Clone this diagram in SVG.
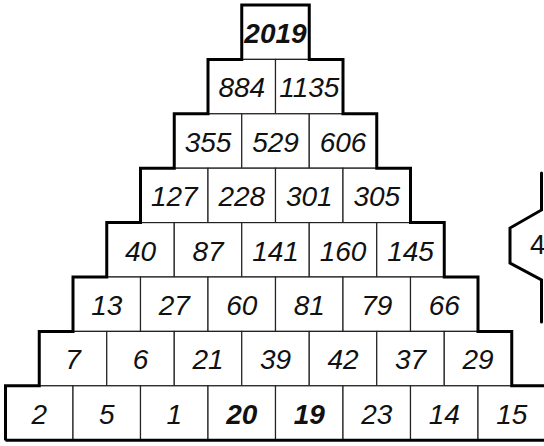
<svg xmlns="http://www.w3.org/2000/svg" width="544" height="446" viewBox="0 0 544 446">
<style>
.c{fill:#fff;stroke:#222;stroke-width:1.2}
.t{font-family:"Liberation Sans",Arial,sans-serif;font-size:28px;font-style:italic;text-anchor:middle;fill:#111}
.b{font-weight:bold}
.o{fill:none;stroke:#000;stroke-width:3;stroke-linejoin:miter}
</style>
<rect width="544" height="446" fill="#fff"/>
<g id="row0">
<g id="n0-0"><rect class="c" x="241.75" y="5" width="67.5" height="54.4"/><text class="t b" x="275.5" y="42.9">2019</text></g>
</g>
<g id="row1">
<g id="n1-0"><rect class="c" x="208" y="59.4" width="67.5" height="54.4"/><text class="t" x="241.75" y="97.3">884</text></g>
<g id="n1-1"><rect class="c" x="275.5" y="59.4" width="67.5" height="54.4"/><text class="t" x="309.25" y="97.3">1135</text></g>
</g>
<g id="row2">
<g id="n2-0"><rect class="c" x="174.25" y="113.8" width="67.5" height="54.4"/><text class="t" x="208" y="151.7">355</text></g>
<g id="n2-1"><rect class="c" x="241.75" y="113.8" width="67.5" height="54.4"/><text class="t" x="275.5" y="151.7">529</text></g>
<g id="n2-2"><rect class="c" x="309.25" y="113.8" width="67.5" height="54.4"/><text class="t" x="343" y="151.7">606</text></g>
</g>
<g id="row3">
<g id="n3-0"><rect class="c" x="140.5" y="168.2" width="67.5" height="54.4"/><text class="t" x="174.25" y="206.1">127</text></g>
<g id="n3-1"><rect class="c" x="208" y="168.2" width="67.5" height="54.4"/><text class="t" x="241.75" y="206.1">228</text></g>
<g id="n3-2"><rect class="c" x="275.5" y="168.2" width="67.5" height="54.4"/><text class="t" x="309.25" y="206.1">301</text></g>
<g id="n3-3"><rect class="c" x="343" y="168.2" width="67.5" height="54.4"/><text class="t" x="376.75" y="206.1">305</text></g>
</g>
<g id="row4">
<g id="n4-0"><rect class="c" x="106.75" y="222.6" width="67.5" height="54.4"/><text class="t" x="140.5" y="260.5">40</text></g>
<g id="n4-1"><rect class="c" x="174.25" y="222.6" width="67.5" height="54.4"/><text class="t" x="208" y="260.5">87</text></g>
<g id="n4-2"><rect class="c" x="241.75" y="222.6" width="67.5" height="54.4"/><text class="t" x="275.5" y="260.5">141</text></g>
<g id="n4-3"><rect class="c" x="309.25" y="222.6" width="67.5" height="54.4"/><text class="t" x="343" y="260.5">160</text></g>
<g id="n4-4"><rect class="c" x="376.75" y="222.6" width="67.5" height="54.4"/><text class="t" x="410.5" y="260.5">145</text></g>
</g>
<g id="row5">
<g id="n5-0"><rect class="c" x="73" y="277" width="67.5" height="54.4"/><text class="t" x="106.75" y="314.9">13</text></g>
<g id="n5-1"><rect class="c" x="140.5" y="277" width="67.5" height="54.4"/><text class="t" x="174.25" y="314.9">27</text></g>
<g id="n5-2"><rect class="c" x="208" y="277" width="67.5" height="54.4"/><text class="t" x="241.75" y="314.9">60</text></g>
<g id="n5-3"><rect class="c" x="275.5" y="277" width="67.5" height="54.4"/><text class="t" x="309.25" y="314.9">81</text></g>
<g id="n5-4"><rect class="c" x="343" y="277" width="67.5" height="54.4"/><text class="t" x="376.75" y="314.9">79</text></g>
<g id="n5-5"><rect class="c" x="410.5" y="277" width="67.5" height="54.4"/><text class="t" x="444.25" y="314.9">66</text></g>
</g>
<g id="row6">
<g id="n6-0"><rect class="c" x="39.25" y="331.4" width="67.5" height="54.4"/><text class="t" x="73" y="369.3">7</text></g>
<g id="n6-1"><rect class="c" x="106.75" y="331.4" width="67.5" height="54.4"/><text class="t" x="140.5" y="369.3">6</text></g>
<g id="n6-2"><rect class="c" x="174.25" y="331.4" width="67.5" height="54.4"/><text class="t" x="208" y="369.3">21</text></g>
<g id="n6-3"><rect class="c" x="241.75" y="331.4" width="67.5" height="54.4"/><text class="t" x="275.5" y="369.3">39</text></g>
<g id="n6-4"><rect class="c" x="309.25" y="331.4" width="67.5" height="54.4"/><text class="t" x="343" y="369.3">42</text></g>
<g id="n6-5"><rect class="c" x="376.75" y="331.4" width="67.5" height="54.4"/><text class="t" x="410.5" y="369.3">37</text></g>
<g id="n6-6"><rect class="c" x="444.25" y="331.4" width="67.5" height="54.4"/><text class="t" x="478" y="369.3">29</text></g>
</g>
<g id="row7">
<g id="n7-0"><rect class="c" x="5.5" y="385.8" width="67.5" height="54.4"/><text class="t" x="39.25" y="423.7">2</text></g>
<g id="n7-1"><rect class="c" x="73" y="385.8" width="67.5" height="54.4"/><text class="t" x="106.75" y="423.7">5</text></g>
<g id="n7-2"><rect class="c" x="140.5" y="385.8" width="67.5" height="54.4"/><text class="t" x="174.25" y="423.7">1</text></g>
<g id="n7-3"><rect class="c" x="208" y="385.8" width="67.5" height="54.4"/><text class="t b" x="241.75" y="423.7">20</text></g>
<g id="n7-4"><rect class="c" x="275.5" y="385.8" width="67.5" height="54.4"/><text class="t b" x="309.25" y="423.7">19</text></g>
<g id="n7-5"><rect class="c" x="343" y="385.8" width="67.5" height="54.4"/><text class="t" x="376.75" y="423.7">23</text></g>
<g id="n7-6"><rect class="c" x="410.5" y="385.8" width="67.5" height="54.4"/><text class="t" x="444.25" y="423.7">14</text></g>
<g id="n7-7"><rect class="c" x="478" y="385.8" width="67.5" height="54.4"/><text class="t" x="511.75" y="423.7">15</text></g>
</g>
<g id="outline">
<path class="o" d="M5.5,440.2 V385.8 H39.25 V331.4 H73 V277 H106.75 V222.6 H140.5 V168.2 H174.25 V113.8 H208 V59.4 H241.75 V5 H309.25 V59.4 H343 V113.8 H376.75 V168.2 H410.5 V222.6 H444.25 V277 H478 V331.4 H511.75 V385.8 H550"/>
<path class="o" d="M550,440.2 H5.5"/>
</g>
<g id="hex">
<path class="o" style="stroke-linecap:round" d="M541.5,173 V210 L510,228 V263 L541.5,280 V322"/>
<text class="t" style="font-style:normal;text-anchor:start" x="530" y="254">4</text>
</g>
</svg>
